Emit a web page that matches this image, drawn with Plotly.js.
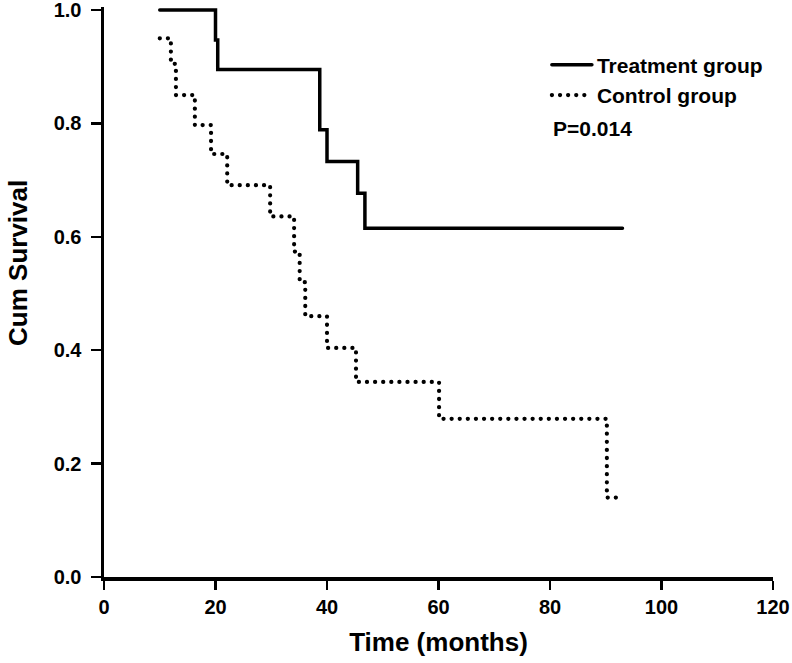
<!DOCTYPE html>
<html>
<head>
<meta charset="utf-8">
<script src="https://cdn.plot.ly/plotly-3.0.1.min.js"></script>
<style>
html,body{margin:0;padding:0;background:#fff;}
#chart{width:792px;height:663px;}
.scatterlayer path.js-line{stroke-linecap:round;}
.legend path.js-line{stroke-linecap:round;}
</style>
</head>
<body>
<div id="chart"></div>
<script>
// Kaplan-Meier step points (time in months, cumulative survival)
const treatmentTime = [10, 20, 20.4, 38.7, 40.0, 45.5, 46.8, 93.0];
const treatmentSurv = [1.0, 0.947, 0.895, 0.789, 0.733, 0.677, 0.615, 0.615];

const controlTime = [10, 12.0, 12.9, 16.3, 19.2, 22.1, 29.8, 34.1, 35.1, 36.1, 40.0, 45.2, 60.1, 90.2, 92.5];
const controlSurv = [0.95, 0.905, 0.85, 0.797, 0.746, 0.691, 0.636, 0.574, 0.52, 0.46, 0.404, 0.344, 0.279, 0.14, 0.14];

const seriesNames = ["Treatment group", "Control group"];
const xTicks = [0, 20, 40, 60, 80, 100, 120];
const yTicks = [0.0, 0.2, 0.4, 0.6, 0.8, 1.0];
const pValueText = "P=0.014";
const xTitle = "Time (months)";
const yTitle = "Cum Survival";

const FONT = "Liberation Sans, Arial, sans-serif";

const traces = [
  {
    x: treatmentTime, y: treatmentSurv, name: seriesNames[0],
    type: "scatter", mode: "lines",
    line: {shape: "hv", color: "#000", width: 3.5}
  },
  {
    x: controlTime, y: controlSurv, name: seriesNames[1],
    type: "scatter", mode: "lines",
    line: {shape: "hv", color: "#000", width: 4.2, dash: "0.1px,8px"}
  }
];

const layout = {
  width: 792, height: 663,
  margin: {l: 104, r: 19, t: 7, b: 86},
  paper_bgcolor: "#fff", plot_bgcolor: "#fff",
  showlegend: true,
  legend: {
    x: 0.662, y: 0.934, xanchor: "left", yanchor: "top",
    font: {family: FONT, size: 21, color: "#000", weight: "bold"},
    bgcolor: "rgba(0,0,0,0)", itemwidth: 40, tracegroupgap: 0
  },
  xaxis: {
    range: [0, 120], tickvals: xTicks, ticktext: xTicks.map(String),
    showgrid: false, zeroline: false, showline: true, linecolor: "#000", linewidth: 3.5,
    ticks: "outside", ticklen: 9, tickwidth: 2.5, tickcolor: "#000",
    tickfont: {family: FONT, size: 20, color: "#000", weight: "bold"},
    title: {text: xTitle, font: {family: FONT, size: 26, color: "#000", weight: "bold"}, standoff: 17},
    fixedrange: true
  },
  yaxis: {
    range: [0, 1.0053], tickvals: yTicks, ticktext: yTicks.map(v => v.toFixed(1)),
    showgrid: false, zeroline: false, showline: true, linecolor: "#000", linewidth: 3.5,
    ticks: "outside", ticklen: 10, tickwidth: 2.5, tickcolor: "#000",
    ticklabelstandoff: 5, ticklabeloverflow: "allow",
    tickfont: {family: FONT, size: 20, color: "#000", weight: "bold"},
    fixedrange: true
  },
  annotations: [
    {
      text: pValueText, xref: "paper", yref: "paper",
      x: 0.668, y: 0.786, xanchor: "left", yanchor: "middle", showarrow: false,
      font: {family: FONT, size: 21, color: "#000", weight: "bold"}
    },
    {
      text: yTitle, xref: "paper", yref: "paper", textangle: -90,
      x: -0.1285, y: 0.551, xanchor: "center", yanchor: "middle", showarrow: false,
      font: {family: FONT, size: 26, color: "#000", weight: "bold"}
    }
  ]
};

Plotly.newPlot("chart", traces, layout, {displayModeBar: false, staticPlot: true});
</script>
</body>
</html>
